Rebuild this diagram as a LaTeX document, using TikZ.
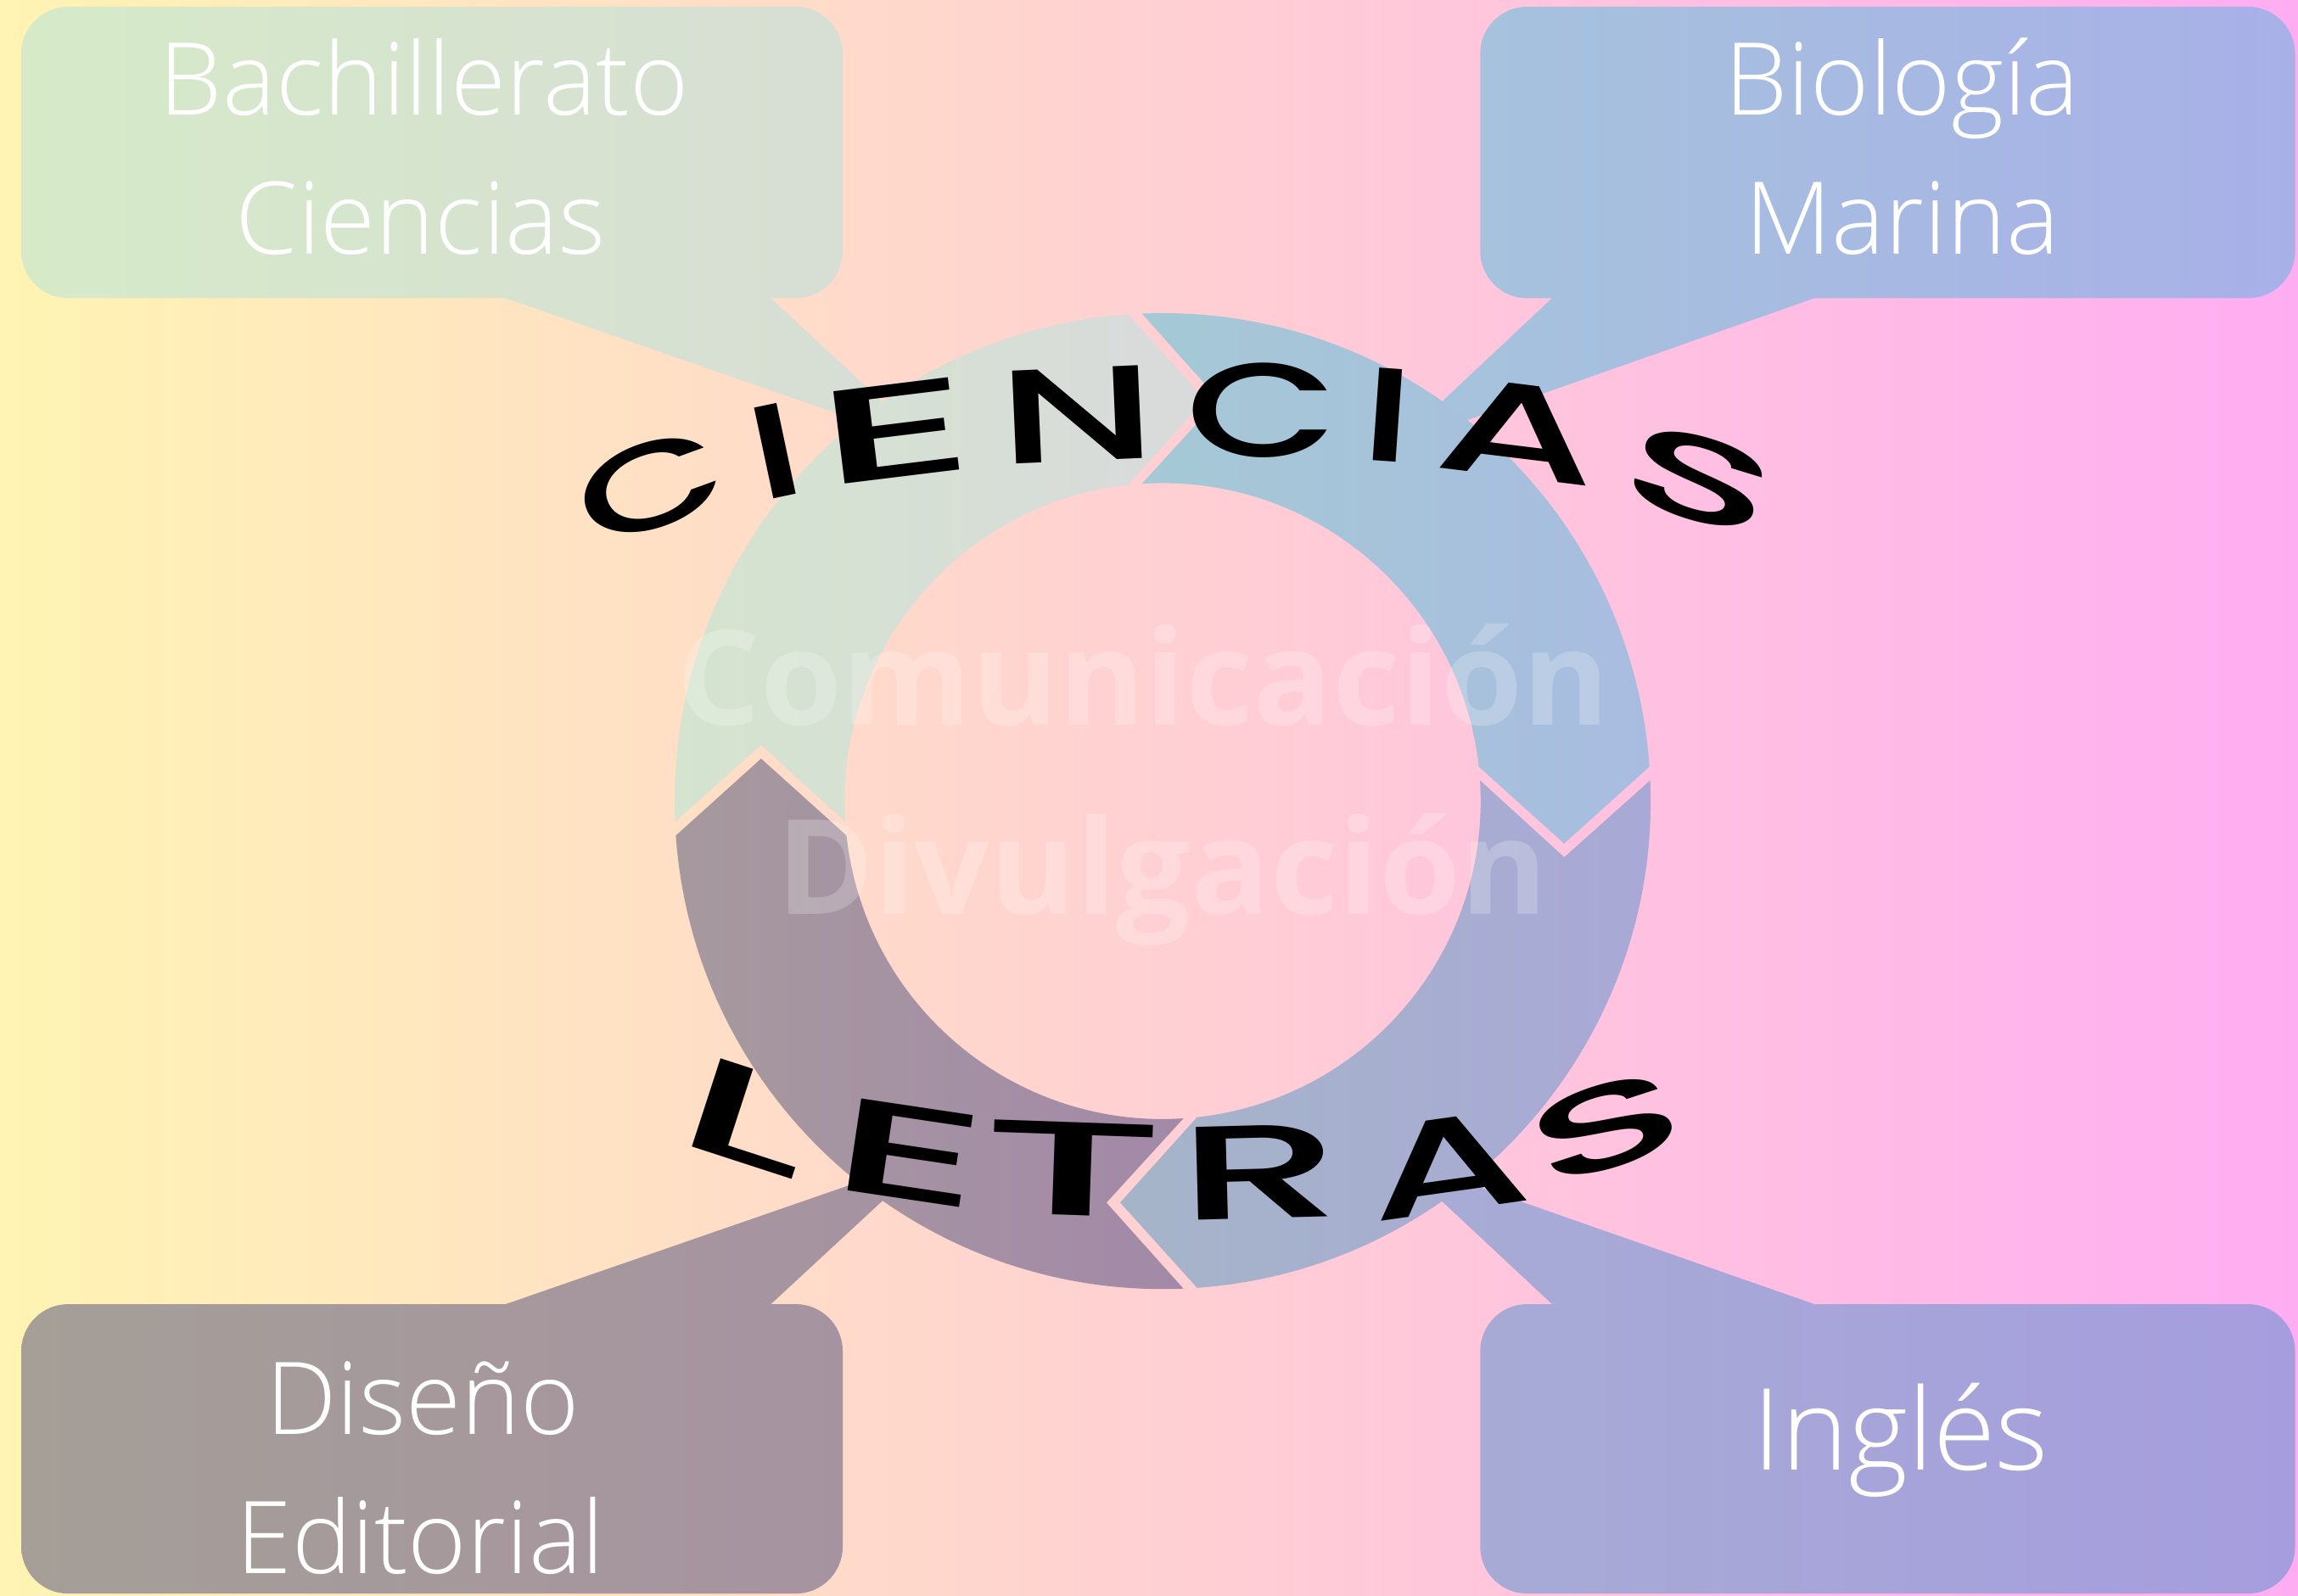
\documentclass[tikz,border=0pt]{standalone}
\usepackage{fontspec}
\setmainfont{Open Sans}
\IfFontExistsTF{Open Sans Light}{\newfontfamily\boxfont{Open Sans Light}}{\newfontfamily\boxfont{Open Sans}}
\IfFontExistsTF{Poppins Medium}{\newfontfamily\popfont{Poppins Medium}}{\newfontfamily\popfont{Poppins}[FakeBold=1.5]}
\definecolor{bgL}{HTML}{FFF4B3}
\definecolor{bgM}{HTML}{FFDAD2}
\definecolor{bgR}{HTML}{FFADF2}
\definecolor{bxTLl}{HTML}{D6EAC8}
\definecolor{bxTLr}{HTML}{D7DDD6}
\definecolor{bxTRl}{HTML}{A6C4DC}
\definecolor{bxTRr}{HTML}{A8B0E8}
\definecolor{bxBLl}{HTML}{A59F97}
\definecolor{bxBLr}{HTML}{A692A2}
\definecolor{bxBRl}{HTML}{A7ACD4}
\definecolor{bxBRr}{HTML}{A69DDE}
\definecolor{sgTLl}{HTML}{D4E4CE}
\definecolor{sgTLr}{HTML}{D9DADC}
\definecolor{sgTRl}{HTML}{A5C9D5}
\definecolor{sgTRr}{HTML}{A8BCE0}
\definecolor{sgBRl}{HTML}{A5B5C8}
\definecolor{sgBRr}{HTML}{A9A8D7}
\definecolor{sgBLl}{HTML}{A6999E}
\definecolor{sgBLr}{HTML}{A389A8}
\newcommand\ringseg[3]{%
  \shade[left color=#2, right color=#3]
    ({#1-92.44}:333) arc[start angle={#1-92.44}, end angle={#1-4.05}, radius=333]
    -- ({#1+6.04}:275.5) -- ({#1-6.22}:217)
    arc[start angle={#1-6.22}, end angle={#1-93.75}, radius=217]
    -- ({#1-82.04}:276.7) -- cycle;}
\begin{document}
\begin{tikzpicture}[x=0.01cm, y=-0.01cm,
  boxtxt/.style={text=white, inner sep=0pt, anchor=base, font=\boxfont\fontsize{19.5}{24}\selectfont},
  ltr/.style={inner sep=0pt, text=black, font=\popfont\fontsize{25.9}{30}\selectfont},
  bigtxt/.style={text=white, text opacity=0.22, inner sep=0pt, anchor=base, font=\bfseries\fontsize{25.6}{31}\selectfont}]
\useasboundingbox (0,0) rectangle (1568,1089);
\shade[left color=bgL, middle color=bgM, right color=bgR] (0,0) rectangle (1568,1089);

% callout boxes with tails
\shade[left color=bxTLl, right color=bxTLr, rounded corners=0.32cm]
  (14.5,4.6) rectangle (575,203.5) [sharp corners] (345,203.5) -- (634,304) -- (526,203.5) -- cycle;
\shade[left color=bxTRl, right color=bxTRr, rounded corners=0.32cm]
  (1010,4.6) rectangle (1566,203.5) [sharp corners] (1059,203.5) -- (952,304) -- (1238,203.5) -- cycle;
\shade[left color=bxBLl, right color=bxBLr, rounded corners=0.32cm]
  (14.5,890) rectangle (575,1087.5) [sharp corners] (345,890) -- (634,790) -- (526,890) -- cycle;
\shade[left color=bxBRl, right color=bxBRr, rounded corners=0.32cm]
  (1010,890) rectangle (1566,1087.5) [sharp corners] (1059,890) -- (952,790) -- (1238,890) -- cycle;

% ring of four arrow segments
\begin{scope}[shift={(793.3,546.7)}]
  \ringseg{-90}{sgTLl}{sgTLr}
  \ringseg{0}{sgTRl}{sgTRr}
  \ringseg{90}{sgBRl}{sgBRr}
  \ringseg{180}{sgBLl}{sgBLr}
\end{scope}

% faint centre text
\node[bigtxt] (com) at (780,495) {Comunicación};
\node[bigtxt] (div) at (793,624) {Divulgación};

% box texts
\node[boxtxt] (b1) at (289.5,78.2) {Bachillerato};
\node[boxtxt] (b2) at (287,173.7) {Ciencias};
\node[boxtxt] (m1) at (1298,78.2) {Biología};
\node[boxtxt] (m2) at (1298,173.7) {Marina};
\node[boxtxt] (d1) at (288.5,978.6) {Diseño};
\node[boxtxt] (d2) at (287,1074) {Editorial};
\node[boxtxt, font=\boxfont\fontsize{22}{26}\selectfont] (in) at (1297,1003.2) {Inglés};

% curved word CIENCIAS
\node[ltr, rotate=20]  (c1) at (444,332) {\scalebox{1.45}[0.9]{C}};
\node[ltr, rotate=12]  (i1) at (529,308) {\scalebox{1.5}[1]{I}};
\node[ltr, rotate=7]   (e1) at (611,294) {\scalebox{2.25}[1]{E}};
\node[ltr, rotate=2.5] (n1) at (735,283) {\scalebox{1.65}[1]{N}};
\node[ltr, rotate=0]   (c2) at (861,280) {\scalebox{1.48}[1]{C}};
\node[ltr, rotate=-4]  (i2) at (947,283) {\scalebox{1.5}[1]{I}};
\node[ltr, rotate=-7]  (a1) at (1036,294) {\scalebox{1.75}[1]{A}};
\node[ltr, rotate=-17] (s1) at (1160,327) {\scalebox{1.9}[0.88]{S}};

% curved word LETRAS
\node[ltr, rotate=-18]  (l2) at (511,762) {\scalebox{2.25}[1]{L}};
\node[ltr, rotate=-8.5] (e2) at (620,787) {\scalebox{2.2}[1]{E}};
\node[ltr, rotate=-2]   (t2) at (732,798) {\scalebox{2.45}[1]{T}};
\node[ltr, rotate=1.5]  (r2) at (860,800) {\scalebox{1.95}[1]{R}};
\node[ltr, rotate=8]    (a2) at (988,795) {\scalebox{1.75}[1]{A}};
\node[ltr, rotate=18]   (s2) at (1096,769) {\scalebox{1.95}[0.88]{S}};
\end{tikzpicture}
\end{document}
